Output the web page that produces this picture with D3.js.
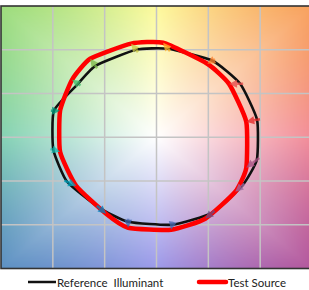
<!DOCTYPE html>
<html>
<head>
<meta charset="utf-8">
<script src="https://cdn.jsdelivr.net/npm/d3@7"></script>
<style>
  body { margin: 0; background: #fff; }
  svg { display: block; }
</style>
</head>
<body>
<svg id="chart" width="309" height="290"></svg>
<script>
// 16 hue bins, reference (black) and test (red) points
var binColors = ["#e62828", "#e74b4b", "#fb812e", "#ffb529", "#cbca46", "#7eb94c", "#41c06d", "#009c7c",
                 "#16bcb0", "#00a4bf", "#0085c3", "#3b62aa", "#4568ae", "#6a4e85", "#9d69a1", "#a74f81"];
var refX  = [0.97, 0.807, 0.54, 0.112, -0.197, -0.59, -0.757, -0.99, -0.995, -0.862, -0.553, -0.274, 0.151, 0.537, 0.827, 0.968];
var refY  = [0.20, 0.611, 0.874, 1.011, 1.0, 0.817, 0.611, 0.303, -0.143, -0.509, -0.806, -0.966, -1.0, -0.863, -0.554, -0.257];
var testX = [0.866, 0.70, 0.49, 0.064, -0.245, -0.64, -0.815, -0.93, -0.93, -0.775, -0.486, -0.274, 0.141, 0.47, 0.76, 0.866];
var testY = [0.177, 0.61, 0.84, 1.08, 1.07, 0.897, 0.657, 0.303, -0.166, -0.554, -0.874, -1.034, -1.057, -0.931, -0.623, -0.349];
var gridTicks = [-1.5, -1, -0.5, 0, 0.5, 1, 1.5];
var legendLabels = ["Reference  Illuminant", "Test Source"];

// background hue stops around the frame (angle in degrees)
var bgAngles = [0, 45, 90, 135, 180, 225, 270, 315, 360];
var bgColors = ["#f28c98", "#f8a05c", "#fdfa9c", "#9cdc7c", "#84d2b4", "#5c90c2", "#9c9aea", "#b2569c", "#f28c98"];

var svg = d3.select("#chart");

var x = d3.scaleLinear().domain([-1.5, 1.5]).range([1, 312]);
var y = d3.scaleLinear().domain([-1.5, 1.5]).range([268.5, 6]);

// background image
var hue = d3.scaleLinear().domain(bgAngles).range(bgColors).interpolate(d3.interpolateRgb);
var bw = Math.round(x(1.5) - x(-1.5)), bh = Math.round(y(-1.5) - y(1.5));
var canvas = document.createElement("canvas");
canvas.width = bw; canvas.height = bh;
var ctx = canvas.getContext("2d");
var img = ctx.createImageData(bw, bh);
for (var j = 0; j < bh; j++) {
    for (var i = 0; i < bw; i++) {
        var dx = x.invert(x(-1.5) + i + 0.5), dy = y.invert(y(1.5) + j + 0.5);
        var ang = Math.atan2(dy, dx) * 180 / Math.PI;
        if (ang < 0) ang += 360;
        var t = Math.min(1, Math.max(Math.abs(dx), Math.abs(dy)) / 1.5);
        var c = d3.rgb(d3.interpolateRgb("#ffffff", hue(ang))(t));
        var k = (j * bw + i) * 4;
        img.data[k] = c.r; img.data[k + 1] = c.g; img.data[k + 2] = c.b; img.data[k + 3] = 255;
    }
}
ctx.putImageData(img, 0, 0);
svg.append("image")
    .attr("x", x(-1.5)).attr("y", y(1.5))
    .attr("width", bw).attr("height", bh)
    .attr("href", canvas.toDataURL());

// grid
svg.append("g").selectAll("line.v")
    .data(gridTicks.slice(1, -1))
    .enter().append("line")
    .attr("x1", d => x(d)).attr("x2", d => x(d))
    .attr("y1", y(1.5)).attr("y2", y(-1.5))
    .attr("stroke", "#c4c4c4").attr("stroke-width", 1.5);
svg.append("g").selectAll("line.h")
    .data(gridTicks.slice(1, -1))
    .enter().append("line")
    .attr("x1", x(-1.5)).attr("x2", x(1.5))
    .attr("y1", d => y(d)).attr("y2", d => y(d))
    .attr("stroke", "#c4c4c4").attr("stroke-width", 1.5);

// frame
svg.append("rect")
    .attr("x", x(-1.5)).attr("y", y(1.5))
    .attr("width", x(1.5) - x(-1.5)).attr("height", y(-1.5) - y(1.5))
    .attr("fill", "none").attr("stroke", "#333").attr("stroke-width", 1.6);

// curves
var line = d3.line().curve(d3.curveCardinalClosed.tension(0.5))
    .x(d => x(d[0])).y(d => y(d[1]));
var refPts = refX.map((v, i) => [v, refY[i]]);
var testPts = testX.map((v, i) => [v, testY[i]]);

svg.append("path").attr("d", line(refPts))
    .attr("fill", "none").attr("stroke", "#111").attr("stroke-width", 2.6)
    .attr("stroke-linejoin", "round");
svg.append("path").attr("d", line(testPts))
    .attr("fill", "none").attr("stroke", "#ff0000").attr("stroke-width", 4.5)
    .attr("stroke-linejoin", "round");

// arrows
var arrows = svg.append("g").attr("opacity", 0.78);
refPts.forEach(function (p, i) {
    var x1 = x(p[0]), y1 = y(p[1]), x2 = x(testPts[i][0]), y2 = y(testPts[i][1]);
    var len = Math.hypot(x2 - x1, y2 - y1) || 1;
    var ux = (x2 - x1) / len, uy = (y2 - y1) / len;
    var hl = 8, hw = 4;
    var bx = x2 - ux * hl, by = y2 - uy * hl;
    arrows.append("line")
        .attr("x1", x1 - ux * 3).attr("y1", y1 - uy * 3).attr("x2", bx).attr("y2", by)
        .attr("stroke", binColors[i]).attr("stroke-width", 2.6);
    arrows.append("path")
        .attr("d", "M" + x2 + "," + y2 + "L" + (bx - uy * hw) + "," + (by + ux * hw) +
                   "L" + (bx + uy * hw) + "," + (by - ux * hw) + "Z")
        .attr("fill", binColors[i]);
});

// legend
var legend = svg.append("g");
legend.append("line").attr("x1", 28).attr("x2", 56).attr("y1", 282).attr("y2", 282)
    .attr("stroke", "#111").attr("stroke-width", 2.5);
legend.append("text").attr("x", 57).attr("y", 286.5)
    .attr("font-family", "Lato, sans-serif").attr("font-size", 11.5).attr("fill", "#222")
    .attr("xml:space", "preserve").style("white-space", "pre")
    .text(legendLabels[0]);
legend.append("line").attr("x1", 199).attr("x2", 226).attr("y1", 282).attr("y2", 282)
    .attr("stroke", "#ff0000").attr("stroke-width", 4.5).attr("stroke-linecap", "round");
legend.append("text").attr("x", 228).attr("y", 286.5)
    .attr("font-family", "Lato, sans-serif").attr("font-size", 11.5).attr("fill", "#222")
    .text(legendLabels[1]);
</script>
</body>
</html>
